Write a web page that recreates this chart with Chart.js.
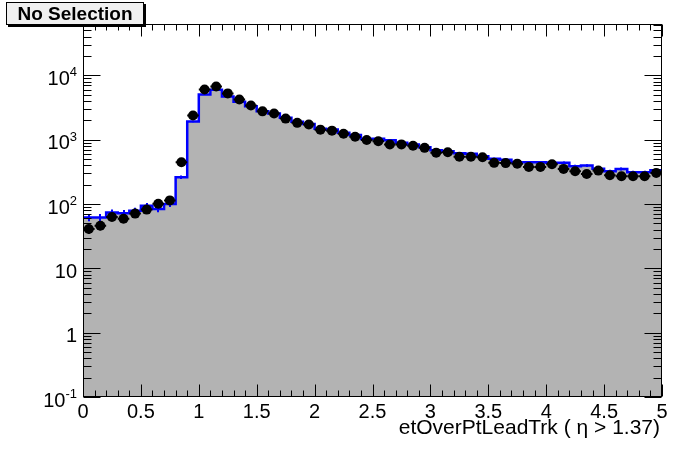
<!DOCTYPE html>
<html>
<head>
<meta charset="utf-8">
<script src="https://cdn.jsdelivr.net/npm/chart.js@4.4.1/dist/chart.umd.min.js"></script>
<style>
  html, body { margin: 0; padding: 0; background: #fff; }
  #wrap { position: relative; width: 696px; height: 472px; }
  #title {
    position: absolute; left: 6px; top: 2px; width: 136px; height: 21px;
    background: #f0f0f0; border: 1px solid #000; box-shadow: 2px 2px 0 #000;
    font: bold 19px "Liberation Sans", Arial, sans-serif; line-height: 21px;
    text-align: center; color: #000;
  }
</style>
</head>
<body>
<div id="wrap">
  <canvas id="c" width="696" height="472"></canvas>
  <div id="title">No Selection</div>
</div>
<script>
// bin lower edges (width 0.1)
const binLow = [0, 0.1, 0.2, 0.3, 0.4, 0.5, 0.6, 0.7, 0.8, 0.9,
  1.0, 1.1, 1.2, 1.3, 1.4, 1.5, 1.6, 1.7, 1.8, 1.9,
  2.0, 2.1, 2.2, 2.3, 2.4, 2.5, 2.6, 2.7, 2.8, 2.9,
  3.0, 3.1, 3.2, 3.3, 3.4, 3.5, 3.6, 3.7, 3.8, 3.9,
  4.0, 4.1, 4.2, 4.3, 4.4, 4.5, 4.6, 4.7, 4.8, 4.9];
const binWidth = 0.1;

// data points (black)
const dataVals = [41, 46, 63, 59, 71, 82, 101, 114, 446, 2380,
  6050, 6740, 5250, 4230, 3410, 2760, 2560, 2130, 1830, 1720,
  1435, 1385, 1236, 1115, 990, 948, 842, 846, 808, 748,
  630, 640, 544, 545, 535, 437, 433, 425, 378, 378,
  415, 352, 323, 294, 331, 280, 270, 270, 270, 305];

// simulation histogram (grey fill, blue outline)
const mcVals = [62, 62, 74, 72, 79, 94, 84, 100, 261, 1920,
  5060, 6000, 4700, 3900, 3330, 2780, 2560, 2200, 1900, 1760,
  1480, 1440, 1280, 1180, 1030, 1033, 982, 895, 842, 764,
  686, 660, 616, 603, 553, 504, 490, 446, 446, 446,
  437, 437, 388, 396, 355, 323, 352, 312, 312, 335];

const xTickValues = [0, 0.5, 1, 1.5, 2, 2.5, 3, 3.5, 4, 4.5, 5];
const xTickLabels = ['0', '0.5', '1', '1.5', '2', '2.5', '3', '3.5', '4', '4.5', '5'];
const yDecades = [0.1, 1, 10, 100, 1000, 10000];
const yLabelBase = ['10', '1', '10', '10', '10', '10'];
const yLabelExp = ['-1', '', '', '2', '3', '4'];

const xTitle = 'etOverPtLeadTrk ( \u03b7 > 1.37)';
const yMin = 0.1, yMax = 63000;

// histogram outline points at the left edge of each bin, plus the last right edge
const mcLine = binLow.map((x, i) => ({ x: x, y: mcVals[i] }));
mcLine.push({ x: binLow[binLow.length - 1] + binWidth, y: mcVals[mcVals.length - 1] });
const dataPts = binLow.map((x, i) => ({ x: x + binWidth / 2, y: dataVals[i] }));

const FONT = '"Liberation Sans", Arial, sans-serif';

const errorBars = {
  id: 'errorBars',
  afterDatasetDraw(chart, args) {
    if (args.index !== 0) return;
    const { ctx, scales: { x, y } } = chart;
    ctx.save();
    ctx.strokeStyle = '#0000ff';
    ctx.lineWidth = 2;
    mcVals.forEach((v, i) => {
      const e = Math.sqrt(v);
      const px = Math.round(x.getPixelForValue(binLow[i] + binWidth / 2));
      ctx.beginPath();
      ctx.moveTo(px, y.getPixelForValue(v - e));
      ctx.lineTo(px, y.getPixelForValue(v + e));
      ctx.stroke();
    });
    ctx.restore();
  },
  beforeDatasetDraw(chart, args) {
    if (args.index !== 1) return;
    const { ctx, scales: { x, y } } = chart;
    ctx.save();
    ctx.strokeStyle = '#000';
    ctx.lineWidth = 2;
    dataVals.forEach((v, i) => {
      const e = Math.sqrt(v);
      const x0 = x.getPixelForValue(binLow[i]);
      const x1 = x.getPixelForValue(binLow[i] + binWidth);
      const xc = Math.round(x.getPixelForValue(binLow[i] + binWidth / 2));
      const py = y.getPixelForValue(v);
      ctx.beginPath();
      ctx.moveTo(x0, py);
      ctx.lineTo(x1, py);
      ctx.moveTo(xc, y.getPixelForValue(v - e));
      ctx.lineTo(xc, y.getPixelForValue(v + e));
      ctx.stroke();
    });
    ctx.restore();
  }
};

const rootAxes = {
  id: 'rootAxes',
  afterDraw(chart) {
    const { ctx, chartArea: a, scales: { x, y } } = chart;
    ctx.save();
    ctx.strokeStyle = '#000';
    ctx.lineWidth = 1;
    ctx.strokeRect(Math.round(a.left) + 0.5, Math.round(a.top) + 0.5,
      Math.round(a.right - a.left) - 1, Math.round(a.bottom - a.top) - 1);

    const L = Math.round(a.left) + 0.5, R = Math.round(a.right) - 0.5;
    const T = Math.round(a.top) + 0.5, B = Math.round(a.bottom) - 0.5;

    // x ticks, bottom and top
    ctx.beginPath();
    for (let k = 0; k <= 50; k++) {
      const px = Math.round(x.getPixelForValue(k * binWidth)) + 0.5;
      const len = k % 5 === 0 ? 12 : 6;
      ctx.moveTo(px, B); ctx.lineTo(px, B - len);
      ctx.moveTo(px, T); ctx.lineTo(px, T + len);
    }
    // y ticks, left and right
    yDecades.forEach(d => {
      for (let m = 1; m <= 9; m++) {
        const v = d * m;
        if (v > yMax) break;
        const py = Math.round(y.getPixelForValue(v)) + 0.5;
        const len = m === 1 ? 17 : 8;
        ctx.moveTo(L, py); ctx.lineTo(L + len, py);
        ctx.moveTo(R, py); ctx.lineTo(R - len, py);
      }
    });
    ctx.stroke();

    // x tick labels
    ctx.fillStyle = '#000';
    ctx.font = '20px ' + FONT;
    ctx.textAlign = 'center';
    ctx.textBaseline = 'alphabetic';
    xTickValues.forEach((v, i) => {
      ctx.fillText(xTickLabels[i], x.getPixelForValue(v), a.bottom + 20.5);
    });

    // y tick labels with superscript exponents
    yDecades.forEach((d, i) => {
      const py = y.getPixelForValue(d);
      const right = a.left - 6;
      ctx.textAlign = 'right';
      let baseRight = right;
      if (yLabelExp[i]) {
        ctx.font = '13px ' + FONT;
        ctx.fillText(yLabelExp[i], right, py + 1);
        baseRight = right - ctx.measureText(yLabelExp[i]).width;
      }
      ctx.font = '20px ' + FONT;
      ctx.fillText(yLabelBase[i], baseRight, py + 9.5);
    });

    // x axis title
    ctx.font = '21px ' + FONT;
    ctx.textAlign = 'right';
    ctx.fillText(xTitle, a.right - 2, a.bottom + 37);
    ctx.restore();
  }
};

new Chart(document.getElementById('c'), {
  type: 'line',
  data: {
    datasets: [{
      label: 'MC',
      data: mcLine,
      stepped: true,
      borderColor: '#0000ff',
      borderWidth: 2.5,
      backgroundColor: '#b3b3b3',
      fill: 'start',
      pointRadius: 0,
      order: 1
    }, {
      label: 'Data',
      data: dataPts,
      showLine: false,
      pointRadius: 5,
      pointBackgroundColor: '#000',
      pointBorderColor: '#000',
      pointBorderWidth: 0,
      order: 0
    }]
  },
  options: {
    responsive: false,
    animation: false,
    layout: { padding: { left: 83, right: 34, top: 24, bottom: 75 } },
    plugins: { legend: { display: false }, tooltip: { enabled: false } },
    scales: {
      x: { type: 'linear', min: 0, max: 5, display: false },
      y: { type: 'logarithmic', min: yMin, max: yMax, display: false }
    }
  },
  plugins: [errorBars, rootAxes]
});
</script>
</body>
</html>
